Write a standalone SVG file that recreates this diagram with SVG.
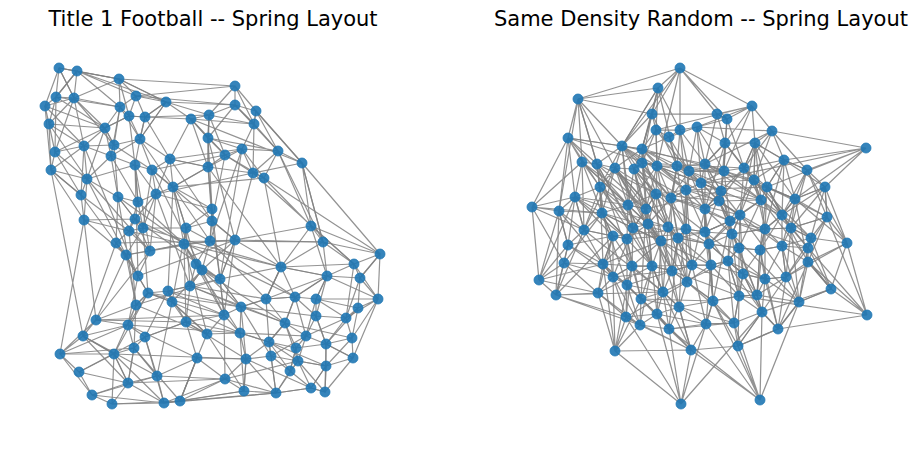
<svg xmlns="http://www.w3.org/2000/svg" width="915" height="449" viewBox="0 0 915 449">
<style>
.t{font-family:"DejaVu Sans","Liberation Sans",sans-serif;font-size:21px;fill:#000;text-anchor:middle}
.e{fill:none;stroke:#808080;stroke-width:1.2;stroke-opacity:0.85;stroke-linejoin:round}
#right-edges .e{stroke-width:1.25}
circle{fill:#1f77b4;fill-opacity:0.9;stroke:#1f77b4;stroke-width:0.8}
</style>
<rect width="915" height="449" fill="#fff"/>
<text class="t" x="213" y="26">Title 1 Football -- Spring Layout</text>
<text class="t" x="701" y="26">Same Density Random -- Spring Layout</text>
<g id="connectors">
<g id="left-edges">
<path class="e" d="M59 68 L77 71 L74 98 L56 97 L45 106 L49 124 L55 152 L51 170 L84 146 L74 98 L59 68 L56 97 L77 71 L119 79 L120 107 L105 128 L74 98 L45 106 L55 152 L84 146 L87 179 L51 170 L49 124 L56 97 L105 128 L114 145 L84 146 L111 156 L120 107 L136 96 L119 79 L74 98 L49 124 L84 146"/>
<path class="e" d="M77 71 L56 97 L55 152 L105 128 L129 116 L136 96 L166 102 L119 79 L59 68 L45 106 L51 170 L81 195 L87 179 L55 152 L74 98 L120 107 L129 116 L145 117 L166 102 L191 119 L209 115 L235 86 L235 105 L256 111 L254 124 L209 115 L191 119 L145 117 L140 139 L135 165 L152 170 L170 159 L156 194 L173 187 L208 167 L208 138 L209 115 L235 105 L235 86 L136 96"/>
<path class="e" d="M120 107 L140 139 L114 145 L105 128 L111 156 L135 165 L87 179 L118 197 L138 202 L156 194 L135 219 L84 220 L81 195 L51 170 L84 220 L129 231 L143 228 L135 219 L118 197 L111 156 L140 139 L152 170 L173 187 L212 209 L212 221 L186 228 L143 228 L138 202 L135 165 L156 194 L212 209 L208 167 L170 159 L173 187 L186 228 L184 244 L210 241 L212 221 L212 209"/>
<path class="e" d="M208 138 L242 149 L225 155 L208 167 L253 173 L264 178 L278 151 L302 163 L256 111 L254 124 L242 149 L278 151 L235 105 L208 138 L191 119 L225 155 L253 173 L254 124 L235 105 L166 102 L140 139 L145 117 L129 116 L105 128"/>
<path class="e" d="M119 79 L235 86 M136 96 L235 105 M256 111 L302 163 L311 226 L264 178 L242 149 L208 167 M278 151 L311 226 M302 163 L323 242 M264 178 L380 254 M253 173 L354 264 M191 119 L302 163 M208 138 L278 151"/>
<path class="e" d="M212 209 L210 241 L235 240 L184 244 L150 251 L126 255 L116 243 L129 231 L150 251 L138 276 L126 255 L136 305 L148 293 L168 291 L190 286 L202 270 L196 264 L184 244 L186 228 L210 241 L196 264 L220 279 L202 270 L172 302 L168 291 L186 322 L190 286 L220 279 L235 240 L210 241 L150 251"/>
<path class="e" d="M116 243 L138 276 L148 293 L136 305 L96 320 L83 336 L128 325 L136 305 L114 354 L134 348 L145 337 L186 322 L207 334 L197 358 L157 376 L134 348 L128 325 L96 320 L60 354 L79 372 L92 395 L112 404 L128 383 L157 376 L164 403 L180 401 L197 358 L207 334 L172 302 L148 293 L128 325 L145 337 L157 376 L128 383 L114 354 L83 336 L60 354 L92 395 L79 372 L114 354 L112 404 L164 403 L128 383 L134 348"/>
<path class="e" d="M186 322 L240 333 L224 315 L220 279 L241 307 L266 299 L281 267 L235 240 L224 315 L207 334 L240 333 L246 359 L225 379 L197 358 L180 401 L244 391 L276 393 L164 403 L225 379 L244 391 L246 359 L269 342 L271 356 L290 371 L276 393 L311 388 L325 392 L326 366 L298 361 L290 371 L296 348 L269 342 L285 323 L241 307 L224 315"/>
<path class="e" d="M323 242 L380 254 L354 264 L360 278 L327 276 L281 267 L295 297 L316 299 L327 276 L323 242 L354 264 L378 299 L358 308 L346 318 L352 338 L353 358 L326 366 L325 392 L326 344 L352 338 L358 308 L360 278 L380 254 L378 299 L346 318 L316 316 L316 299 L295 297 L266 299 L285 323 L306 336 L296 348 L326 344 L316 316 L306 336 L298 361 L311 388 L326 366 L353 358 L326 344 L346 318"/>
<path class="e" d="M323 242 L311 226 L281 267 L266 299 L241 307 L240 333 L269 342 L285 323 L295 297 L327 276 M306 336 L271 356 L298 361 L325 392 L311 388 L276 393 L271 356 L246 359 M84 220 L60 354 M51 170 L83 336"/>
<path class="e" d="M170 159 L242 149 M152 170 L225 155 M173 187 L264 178 M156 194 L253 173 M138 202 L184 244 M135 219 L150 251 M143 228 L126 255 M186 228 L196 264 M212 221 L235 240 M212 209 L220 279 M118 197 L116 243 M111 156 L138 202 M114 145 L152 170 M140 139 L170 159 M105 128 L87 179 M129 116 L135 165 M135 165 L150 251"/>
<path class="e" d="M152 170 L202 270 M156 194 L190 286 M173 187 L168 291 M135 165 L138 276 M129 231 L136 305 M186 228 L172 302 M143 228 L148 293 M184 244 L186 322 M210 241 L266 299 M235 240 L323 242 M311 226 L327 276 M184 244 L207 334 M202 270 L224 315 M190 286 L241 307 M196 264 L240 333 M168 291 L224 315 M172 302 L186 322 M136 305 L134 348 M138 276 L128 325 M150 251 L96 320 M126 255 L96 320 M116 243 L83 336 M148 293 L114 354 M168 291 L145 337 M186 322 L197 358 M172 302 L157 376 M145 337 L164 403 M134 348 L180 401 M207 334 L244 391 M186 322 L246 359 M172 302 L240 333 M241 307 L246 359 M224 315 L225 379 M240 333 L244 391"/>
<path class="e" d="M281 267 L327 276 M266 299 L295 297 M295 297 L316 316 M316 299 L358 308 M266 299 L269 342 M241 307 L271 356 M285 323 L296 348 M306 336 L326 344 M269 342 L290 371 M296 348 L298 361 M271 356 L276 393 M246 359 L244 391 M290 371 L311 388 M298 361 L326 366 M326 344 L353 358 M378 299 L352 338 M380 254 L360 278 M378 299 L316 299 M378 299 L327 276"/>
<path class="e" d="M135 219 L295 297 M143 228 L281 267 M190 286 L285 323 M148 293 L241 307 M96 320 L224 315 M128 325 L240 333 M114 354 L246 359 M83 336 L157 376 M60 354 L114 354 M79 372 L128 383 M92 395 L164 403 M112 404 L180 401 M128 383 L92 395 M191 119 L208 167 M209 115 L208 167 M302 163 L253 173 M84 146 L138 276 M87 179 L126 255 M118 197 L136 305 M140 139 L210 241 M208 167 L281 267 M208 138 L235 240 M242 149 L220 279 M302 163 L380 254 M311 226 L354 264 M278 151 L323 242"/>
<path class="e" d="M60 354 L134 348 M60 354 L128 325 M79 372 L145 337 M92 395 L157 376 M164 403 L244 391 M180 401 L276 393 M128 383 L225 379 M77 71 L166 102 M59 68 L119 79 M77 71 L136 96 M119 79 L166 102 M56 97 L120 107 M49 124 L105 128 M45 106 L84 146 M210 241 L323 242"/>
<path class="e" d="M59 68 L74 98 M77 71 L120 107 M119 79 L129 116 M74 98 L114 145 M45 106 L105 128 M136 96 L145 117 M166 102 L145 117 M166 102 L140 139 M120 107 L114 145 M129 116 L140 139 M145 117 L170 159 M191 119 L208 138 M209 115 L208 138 M49 124 L87 179 M105 128 L84 146 M84 146 L81 195 M114 145 L118 197 M55 152 L81 195 M111 156 L87 179 M135 165 L138 202 M170 159 L208 167 M152 170 L156 194 M208 167 L173 187 M87 179 L84 220 M81 195 L129 231 M118 197 L135 219 M156 194 L143 228 M173 187 L186 228 M138 202 L129 231 M212 209 L186 228 M135 219 L129 231 M191 119 L170 159 M209 115 L225 155 M208 138 L225 155 M235 86 L256 111 M235 86 L254 124 M235 105 L254 124 M256 111 L278 151 M254 124 L278 151 M242 149 L253 173 M225 155 L264 178 M278 151 L253 173 M191 119 L254 124 M145 117 L209 115 M166 102 L209 115"/>
<path class="e" d="M116 243 L126 255 M126 255 L138 276 M184 244 L202 270 M210 241 L202 270 M196 264 L190 286 M202 270 L190 286 M138 276 L148 293 M190 286 L168 291 M148 293 L172 302 M168 291 L172 302 M172 302 L207 334 M186 322 L145 337 M83 336 L114 354 M114 354 L128 383 M134 348 L128 383 M197 358 L180 401 M235 240 L220 279 M235 240 L202 270 M281 267 L220 279 M281 267 L266 299 M327 276 L316 299 M354 264 L327 276 M360 278 L378 299 M220 279 L241 307 M220 279 L224 315 M295 297 L285 323 M316 299 L306 336 M316 316 L326 344 M240 333 L269 342 M269 342 L271 356 M296 348 L290 371 M326 344 L326 366 M353 358 L325 392 M298 361 L276 393 M326 366 L311 388 M225 379 L276 393"/>
<path class="e" d="M302 163 L323 242 M264 178 L281 267 M253 173 L235 240 M242 149 L210 241 M225 155 L212 221 M208 167 L212 221 M208 138 L212 209 M173 187 L184 244 M156 194 L150 251 M152 170 L143 228 M186 228 L190 286 M212 221 L220 279 M184 244 L224 315 M202 270 L241 307 M190 286 L266 299 M186 322 L224 315 M197 358 L246 359 M157 376 L225 379 M180 401 L225 379 M138 276 L235 240 M136 305 L220 279 M116 243 L210 241 M126 255 L184 244 M129 231 L184 244 M84 220 L126 255 M84 220 L96 320 M81 195 L116 243"/>
<path class="e" d="M323 242 L281 267 M311 226 L380 254 M354 264 L346 318 M360 278 L346 318 M327 276 L316 316 M327 276 L295 297 M295 297 L306 336 M316 299 L346 318 M358 308 L326 344 M378 299 L353 358 M352 338 L326 366 M346 318 L306 336 M246 359 L276 393 M285 323 L298 361 M269 342 L298 361"/>
<path class="e" d="M152 170 L235 240 M170 159 L212 221 M118 197 L184 244 M87 179 L150 251 M135 219 L220 279 M184 244 L281 267 M210 241 L295 297 M202 270 L285 323 M168 291 L241 307 M148 293 L224 315 M136 305 L207 334 M96 320 L186 322 M128 325 L197 358 M114 354 L164 403 M83 336 L128 383 M235 240 L311 226 M281 267 L354 264 M266 299 L327 276 M241 307 L316 316 M240 333 L306 336 M246 359 L311 388 M225 379 L298 361 M269 342 L326 366 M285 323 L352 338"/>
</g>
<g id="right-edges">
<path class="e" d="M680 68 L658 88 M680 68 L652 114 M680 68 L680 130 M680 68 L622 146 M680 68 L717 114 M680 68 L727 119 M680 68 L657 166 M680 68 L578 99 M680 68 L752 106"/>
<path class="e" d="M658 88 L578 99 M658 88 L652 114 M658 88 L656 130 M658 88 L622 146 M658 88 L677 166 M658 88 L642 149 M578 99 L568 138 M578 99 L582 162 M578 99 L622 146 M578 99 L615 168 M578 99 L597 164 M578 99 L652 114 M578 99 L559 211"/>
<path class="e" d="M568 138 L532 207 M568 138 L582 162 M568 138 L600 187 M568 138 L642 149 M568 138 L559 211 M568 138 L657 166 M568 138 L597 164 M532 207 L559 211 M532 207 L539 280 M532 207 L575 197 M532 207 L582 162 M532 207 L584 230 M532 207 L602 213 M532 207 L564 263"/>
<path class="e" d="M539 280 L568 245 M539 280 L564 263 M539 280 L556 295 M539 280 L598 293 M539 280 L603 264 M539 280 L559 211 M539 280 L575 197 M556 295 L564 263 M556 295 L598 293 M556 295 L613 236 M556 295 L626 317 M556 295 L663 292 M556 295 L640 325 M556 295 L584 230"/>
<path class="e" d="M615 351 L598 293 M615 351 L626 317 M615 351 L613 277 M615 351 L640 325 M615 351 L681 404 M615 351 L627 285 M615 351 L691 350 M615 351 L603 264 M615 351 L641 299 M681 404 L626 317 M681 404 L691 350 M681 404 L657 314 M681 404 L669 329 M681 404 L706 324 M681 404 L762 312"/>
<path class="e" d="M760 400 L738 346 M760 400 L706 324 M760 400 L734 323 M760 400 L691 350 M760 400 L799 302 M760 400 L713 301 M760 400 L669 329 M760 400 L762 312 M867 315 L831 289 M867 315 L847 243 M867 315 L808 262 M867 315 L739 296 M867 315 L778 329 M867 315 L808 248 M867 315 L827 217"/>
<path class="e" d="M847 243 L811 238 M847 243 L808 262 M847 243 L825 187 M847 243 L831 289 M847 243 L827 217 M847 243 L807 170 M847 243 L795 199 M866 148 L784 160 M866 148 L807 170 M866 148 L825 187 M866 148 L772 131 M866 148 L795 199 M866 148 L701 183 M866 148 L767 187"/>
<path class="e" d="M752 106 L717 114 M752 106 L727 119 M752 106 L772 131 M752 106 L755 143 M752 106 L725 143 M752 106 L656 130 M752 106 L697 127 M752 106 L724 171 M772 131 L755 143 M772 131 L784 160 M772 131 L744 168 M772 131 L754 180 M772 131 L697 127 M772 131 L705 164"/>
<path class="e" d="M652 114 L656 130 L669 137 L680 130 L697 127 L727 119 L717 114 L652 114 L622 146 L642 149 L642 163 L634 169 L615 168 L597 164 L582 162 L600 187 L575 197 L559 211 L584 230 L602 213 L600 187 L597 164 L622 146 L642 163 L657 166 L677 166 L689 171 L686 190 L671 198 L656 194 L646 209 L628 205 L602 213 L633 228 L648 224 L668 227 L686 229 L686 190 L701 183 L705 164 L724 171 L689 171 L697 127 L725 143 L724 171 L744 168 L754 180 L767 187 L761 200 L740 215 L730 221 L705 232 L705 209 L719 201 L721 191 L705 164 L725 143 L755 143 L784 160 L807 170 L825 187 L795 199 L767 187 L782 215 L791 228 L827 217 L825 187"/>
<path class="e" d="M669 137 L642 149 L615 168 L628 205 L656 194 L657 166 L656 130 L680 130 L677 166 L671 198 L648 224 L661 241 L678 238 L672 271 L692 265 L687 282 L679 307 L663 292 L652 266 L632 266 L613 277 L627 285 L641 299 L657 314 L669 329 L691 350 L679 307 L713 301 L706 324 L734 323 L739 296 L757 295 L762 312 L778 329 L799 302 L831 289 L808 262 L808 248 L811 238 L782 246 L760 250 L739 248 L709 244 L711 265 L728 261 L743 274 L765 279 L786 277 L782 246 L811 238 L791 228 L765 229 L760 250 L757 295 L765 279 L799 302 L778 329 L738 346 L762 312 L743 274 L739 296 L713 301 L711 265 L709 244 L705 232 L730 221 L732 234 L739 248 L728 261 L739 296"/>
<path class="e" d="M584 230 L613 236 L627 239 L633 228 L661 241 L652 266 L672 271 L663 292 L641 299 L627 285 L627 239 L603 264 L613 236 L568 245 L564 263 L603 264 L613 277 L632 266 L661 241 L648 224 L646 209 L627 239 L602 213 L613 236 L584 230 L575 197 L568 245 L559 211"/>
<path class="e" d="M582 162 L602 213 L615 168 L646 209 L657 166 L671 198 L678 238 L686 229 L705 232 L705 209 L721 191 L701 183 L689 171 L724 171 L719 201 L761 200 L754 180 L755 143 L744 168 L784 160 L767 187 L795 199 L782 215 L765 229 L732 234 L740 215 L719 201 L730 221 L709 244 L678 238 L668 227 L656 194 L634 169 L642 149 L652 114 L658 88 L622 146 L615 168"/>
<path class="e" d="M568 138 L628 205 M597 164 L656 194 M600 187 L633 228 M575 197 L613 236 M559 211 L603 264 M582 162 L646 209 M622 146 L657 166 M634 169 L646 209 M642 163 L671 198 M642 149 L648 224 M628 205 L652 266 M633 228 L632 266 M648 224 L672 271 M668 227 L687 282 M686 229 L692 265 M686 190 L705 209 M701 183 L721 191 M689 171 L719 201 M697 127 L705 164 M727 119 L724 171 M717 114 L725 143 M725 143 L754 180 M755 143 L767 187 M784 160 L825 187 M807 170 L795 199 M744 168 L761 200 M754 180 L782 215 M761 200 L791 228 M767 187 L827 217 M740 215 L732 234 M730 221 L765 229 M705 232 L709 244 M705 209 L711 265 M732 234 L728 261 M765 229 L782 246 M791 228 L808 248 M782 215 L811 238 M827 217 L811 238 M795 199 L791 228 M721 191 L705 232 M719 201 L740 215 M724 171 L761 200 M705 164 L721 191 M677 166 L701 183 M671 198 L686 190 M656 194 L648 224 M646 209 L661 241 M602 213 L627 239 M584 230 L568 245 M600 187 L603 264"/>
<path class="e" d="M564 263 L598 293 M613 277 L626 317 M627 285 L640 325 M641 299 L669 329 M663 292 L657 314 M672 271 L679 307 M687 282 L711 265 M692 265 L709 244 M678 238 L705 232 M661 241 L692 265 M652 266 L663 292 M632 266 L641 299 M598 293 L626 317 M626 317 L657 314 M640 325 L669 329 M679 307 L691 350 M657 314 L691 350 M669 329 L734 323 M691 350 L738 346 M691 350 L706 324 M706 324 L734 323 M713 301 L734 323 M734 323 L738 346 M762 312 L738 346 M799 302 L808 262 M808 262 L786 277 M782 246 L786 277 M760 250 L765 279 M739 248 L743 274 M711 265 L713 301 M743 274 L739 296 M739 296 L762 312 M757 295 L786 277 M709 244 L728 261"/>
<path class="e" d="M578 99 L597 164 M568 138 L575 197 M597 164 L632 266 M600 187 L613 277 M615 168 L661 241 M634 169 L652 266 M642 163 L672 271 M622 146 L656 194 M652 114 L677 166 M656 130 L689 171 M680 130 L686 190 M717 114 L705 164 M727 119 L744 168 M772 131 L807 170 M755 143 L795 199 M784 160 L782 215 M807 170 L827 217 M754 180 L765 229 M767 187 L760 250 M761 200 L739 248 M740 215 L709 244 M730 221 L713 301 M732 234 L739 296 M765 229 L757 295 M791 228 L799 302 M782 215 L782 246 M825 187 L808 248 M795 199 L808 262 M811 238 L831 289"/>
<path class="e" d="M646 209 L679 307 M648 224 L657 314 M668 227 L663 292 M686 229 L687 282 M656 194 L678 238 M671 198 L672 271 M686 190 L692 265 M701 183 L711 265 M689 171 L705 209 M705 164 L705 232 M724 171 L730 221 M721 191 L732 234 M719 201 L739 248 M744 168 L767 187 M658 88 L680 130 M669 137 L697 127 M657 166 L628 205 M677 166 L668 227 M642 149 L656 194 M615 168 L584 230 M602 213 L564 263 M559 211 L556 295 M584 230 L603 264 M613 236 L613 277 M627 239 L641 299 M661 241 L657 314 M678 238 L669 329 M652 266 L640 325 M632 266 L626 317 M603 264 L598 293"/>
<path class="e" d="M663 292 L691 350 M672 271 L713 301 M692 265 L706 324 M687 282 L734 323 M679 307 L706 324 M705 232 L762 312 M709 244 L743 274 M739 248 L757 295 M760 250 L778 329 M782 246 L808 262 M728 261 L765 279 M711 265 L739 296 M613 236 L598 293 M568 245 L556 295 M628 205 L633 228 M634 169 L628 205 M582 162 L575 197 M622 146 L634 169 M642 149 L657 166 M652 114 L642 163 M656 130 L657 166 M669 137 L677 166 M680 130 L689 171 M697 127 L701 183 M717 114 L727 119 M727 119 L725 143"/>
<path class="e" d="M582 162 L648 224 M622 146 L633 228 M575 197 L627 239 M615 168 L678 238 M600 187 L652 266 M725 143 L705 209 M755 143 L740 215 M784 160 L765 229 M807 170 L791 228 M825 187 L782 215 M827 217 L808 248 M811 238 L786 277 M808 248 L799 302 M808 262 L778 329 M831 289 L762 312 M847 243 L786 277"/>
<path class="e" d="M622 146 L600 187 M622 146 L628 205 M622 146 L671 198 M622 146 L705 164 M642 149 L689 171 M642 149 L646 209 M642 149 L686 190 M582 162 L628 205 M582 162 L584 230 M597 164 L602 213 M597 164 L646 209 M597 164 L633 228 M615 168 L600 187 M615 168 L656 194 M615 168 L648 224 M634 169 L656 194 M634 169 L648 224 M634 169 L668 227 M642 163 L689 171 M642 163 L646 209 M642 163 L686 229 M657 166 L686 190 M657 166 L668 227 M657 166 L701 183 M677 166 L671 198 M677 166 L686 229 M677 166 L724 171 M689 171 L671 198 M689 171 L686 229 M689 171 L721 191 M600 187 L628 205 M600 187 L584 230 M575 197 L602 213 M575 197 L584 230 M575 197 L628 205"/>
<path class="e" d="M656 194 L633 228 M656 194 L668 227 M656 194 L686 190 M671 198 L686 229 M671 198 L705 209 M686 190 L705 232 M686 190 L719 201 M701 183 L705 209 M701 183 L724 171 M701 183 L719 201 M602 213 L633 228 M602 213 L613 236 M628 205 L627 239 M628 205 L648 224 M628 205 L646 209 M648 224 L627 239 M648 224 L652 266 M668 227 L661 241 M668 227 L678 238 M668 227 L692 265 M686 229 L678 238 M686 229 L705 232 M686 229 L709 244 M633 228 L627 239 M633 228 L661 241 M584 230 L627 239"/>
<path class="e" d="M725 143 L724 171 M725 143 L705 164 M725 143 L744 168 M755 143 L744 168 M755 143 L754 180 M755 143 L784 160 M784 160 L754 180 M784 160 L767 187 M784 160 L807 170 M784 160 L795 199 M705 164 L724 171 M705 164 L719 201 M724 171 L721 191 M724 171 L754 180 M744 168 L721 191 M744 168 L719 201 M754 180 L761 200 M754 180 L740 215 M767 187 L795 199 M767 187 L782 215 M767 187 L765 229 M825 187 L795 199 M825 187 L827 217 M825 187 L791 228 M721 191 L705 209 M721 191 L740 215 M721 191 L730 221 M719 201 L705 209 M719 201 L730 221 M719 201 L732 234 M761 200 L740 215 M761 200 L782 215 M761 200 L765 229 M761 200 L730 221"/>
<path class="e" d="M795 199 L782 215 M795 199 L827 217 M705 209 L705 232 M705 209 L730 221 M705 209 L732 234 M740 215 L730 221 M740 215 L765 229 M740 215 L739 248 M782 215 L765 229 M782 215 L791 228 M827 217 L791 228 M730 221 L705 232 M730 221 L732 234 M765 229 L791 228 M765 229 L732 234 M765 229 L760 250 M791 228 L782 246 M791 228 L811 238 M705 232 L732 234 M705 232 L711 265 M732 234 L739 248 M732 234 L709 244"/>
<path class="e" d="M613 236 L603 264 M613 236 L632 266 M627 239 L632 266 M627 239 L652 266 M661 241 L672 271 M661 241 L678 238 M678 238 L692 265 M678 238 L672 271 M678 238 L709 244 M603 264 L632 266 M603 264 L613 277 M603 264 L627 285 M632 266 L652 266 M632 266 L627 285 M652 266 L672 271 M652 266 L641 299 M672 271 L692 265 M672 271 L687 282 M692 265 L687 282 M692 265 L711 265 M613 277 L598 293 M627 285 L626 317 M687 282 L713 301 M663 292 L679 307 M663 292 L669 329 M641 299 L657 314 M641 299 L640 325 M679 307 L669 329 M679 307 L657 314 M626 317 L640 325 M657 314 L640 325 M657 314 L669 329"/>
<path class="e" d="M709 244 L739 248 M709 244 L711 265 M739 248 L760 250 M739 248 L728 261 M760 250 L782 246 M760 250 L743 274 M782 246 L808 248 M782 246 L765 279 M808 248 L786 277 M711 265 L728 261 M711 265 L743 274 M728 261 L743 274 M728 261 L739 296 M808 262 L831 289 M743 274 L765 279 M743 274 L757 295 M765 279 L786 277 M765 279 L762 312 M786 277 L799 302 M786 277 L762 312 M831 289 L799 302 M713 301 L739 296 M713 301 L706 324 M739 296 L757 295 M739 296 L734 323 M757 295 L762 312 M757 295 L799 302 M799 302 L778 329 M762 312 L734 323 M762 312 L778 329 M778 329 L738 346"/>
<path class="e" d="M600 187 L661 241 M615 168 L672 271 M597 164 L652 266 M656 194 L663 292 M671 198 L687 282 M686 190 L679 307 M628 205 L663 292 M646 209 L641 299 M602 213 L627 285 M633 228 L613 277 M642 149 L724 171 M657 166 L721 191 M677 166 L705 164 M656 194 L719 201 M671 198 L730 221 M686 190 L761 200 M701 183 L754 180 M697 127 L724 171 M680 130 L705 164 M669 137 L689 171 M656 130 L642 149 M656 130 L642 163 M652 114 L642 149 M725 143 L721 191 M755 143 L761 200 M807 170 L782 215 M744 168 L740 215 M754 180 L730 221 M767 187 L791 228 M795 199 L782 246 M782 215 L760 250 M827 217 L808 262 M791 228 L786 277 M765 229 L765 279 M740 215 L743 274 M730 221 L728 261 M705 232 L713 301 M732 234 L757 295 M705 209 L692 265 M678 238 L711 265 M661 241 L687 282"/>
<path class="e" d="M709 244 L713 301 M739 248 L739 296 M760 250 L757 295 M782 246 L799 302 M808 248 L831 289 M711 265 L706 324 M728 261 L734 323 M743 274 L762 312 M765 279 L778 329 M786 277 L778 329 M713 301 L738 346 M739 296 L738 346 M679 307 L734 323 M669 329 L706 324 M657 314 L706 324 M640 325 L691 350 M626 317 L691 350 M641 299 L679 307 M598 293 L640 325 M613 277 L640 325 M627 285 L663 292 M632 266 L663 292 M603 264 L641 299 M568 245 L603 264 M568 245 L613 277 M564 263 L613 277 M559 211 L568 245 M559 211 L602 213 M568 138 L622 146"/>
<path class="e" d="M575 197 L668 227 M602 213 L709 244 M584 230 L663 292 M613 236 L686 229 M627 239 L705 232 M633 228 L711 265 M646 209 L721 191 M634 169 L705 209 M642 163 L744 168 M657 166 L740 215 M677 166 L754 180 M686 190 L767 187 M701 183 L782 215 M705 164 L761 200 M724 171 L795 199 M719 201 L782 246 M730 221 L808 248 M740 215 L786 277 M732 234 L799 302 M705 232 L765 279 M692 265 L757 295 M672 271 L739 296 M663 292 L728 261 M652 266 L711 265 M641 299 L713 301 M626 317 L687 282 M613 277 L672 271 M603 264 L661 241 M627 285 L692 265 M598 293 L652 266 M622 146 L686 190 M642 149 L701 183 M615 168 L668 227 M656 194 L705 232 M671 198 L740 215 M689 171 L761 200 M744 168 L808 248 M754 180 L811 238 M767 187 L808 262 M761 200 L831 289"/>
</g>
</g>
<g id="left-nodes">
<g id="a1"><circle cx="59" cy="68" r="5"/></g>
<g id="a2"><circle cx="77" cy="71" r="5"/></g>
<g id="a3"><circle cx="119" cy="79" r="5"/></g>
<g id="a4"><circle cx="56" cy="97" r="5"/></g>
<g id="a5"><circle cx="74" cy="98" r="5"/></g>
<g id="a6"><circle cx="45" cy="106" r="5"/></g>
<g id="a7"><circle cx="136" cy="96" r="5"/></g>
<g id="a8"><circle cx="166" cy="102" r="5"/></g>
<g id="a9"><circle cx="120" cy="107" r="5"/></g>
<g id="a10"><circle cx="129" cy="116" r="5"/></g>
<g id="a11"><circle cx="145" cy="117" r="5"/></g>
<g id="a12"><circle cx="191" cy="119" r="5"/></g>
<g id="a13"><circle cx="209" cy="115" r="5"/></g>
<g id="a14"><circle cx="49" cy="124" r="5"/></g>
<g id="a15"><circle cx="105" cy="128" r="5"/></g>
<g id="a16"><circle cx="140" cy="139" r="5"/></g>
<g id="a17"><circle cx="208" cy="138" r="5"/></g>
<g id="a18"><circle cx="84" cy="146" r="5"/></g>
<g id="a19"><circle cx="114" cy="145" r="5"/></g>
<g id="a20"><circle cx="55" cy="152" r="5"/></g>
<g id="a21"><circle cx="111" cy="156" r="5"/></g>
<g id="a22"><circle cx="135" cy="165" r="5"/></g>
<g id="a23"><circle cx="170" cy="159" r="5"/></g>
<g id="a24"><circle cx="152" cy="170" r="5"/></g>
<g id="a25"><circle cx="208" cy="167" r="5"/></g>
<g id="a26"><circle cx="51" cy="170" r="5"/></g>
<g id="a27"><circle cx="87" cy="179" r="5"/></g>
<g id="a28"><circle cx="81" cy="195" r="5"/></g>
<g id="a29"><circle cx="118" cy="197" r="5"/></g>
<g id="a30"><circle cx="156" cy="194" r="5"/></g>
<g id="a31"><circle cx="173" cy="187" r="5"/></g>
<g id="a32"><circle cx="138" cy="202" r="5"/></g>
<g id="a33"><circle cx="212" cy="209" r="5"/></g>
<g id="a34"><circle cx="84" cy="220" r="5"/></g>
<g id="a35"><circle cx="135" cy="219" r="5"/></g>
<g id="a36"><circle cx="129" cy="231" r="5"/></g>
<g id="a37"><circle cx="143" cy="228" r="5"/></g>
<g id="a38"><circle cx="186" cy="228" r="5"/></g>
<g id="a39"><circle cx="212" cy="221" r="5"/></g>
<g id="a40"><circle cx="235" cy="86" r="5"/></g>
<g id="a41"><circle cx="235" cy="105" r="5"/></g>
<g id="a42"><circle cx="256" cy="111" r="5"/></g>
<g id="a43"><circle cx="254" cy="124" r="5"/></g>
<g id="a44"><circle cx="242" cy="149" r="5"/></g>
<g id="a45"><circle cx="225" cy="155" r="5"/></g>
<g id="a46"><circle cx="278" cy="151" r="5"/></g>
<g id="a47"><circle cx="302" cy="163" r="5"/></g>
<g id="a48"><circle cx="253" cy="173" r="5"/></g>
<g id="a49"><circle cx="264" cy="178" r="5"/></g>
<g id="a50"><circle cx="311" cy="226" r="5"/></g>
<g id="a51"><circle cx="116" cy="243" r="5"/></g>
<g id="a52"><circle cx="150" cy="251" r="5"/></g>
<g id="a53"><circle cx="126" cy="255" r="5"/></g>
<g id="a54"><circle cx="184" cy="244" r="5"/></g>
<g id="a55"><circle cx="210" cy="241" r="5"/></g>
<g id="a56"><circle cx="196" cy="264" r="5"/></g>
<g id="a57"><circle cx="202" cy="270" r="5"/></g>
<g id="a58"><circle cx="138" cy="276" r="5"/></g>
<g id="a59"><circle cx="190" cy="286" r="5"/></g>
<g id="a60"><circle cx="148" cy="293" r="5"/></g>
<g id="a61"><circle cx="168" cy="291" r="5"/></g>
<g id="a62"><circle cx="172" cy="302" r="5"/></g>
<g id="a63"><circle cx="136" cy="305" r="5"/></g>
<g id="a64"><circle cx="96" cy="320" r="5"/></g>
<g id="a65"><circle cx="128" cy="325" r="5"/></g>
<g id="a66"><circle cx="186" cy="322" r="5"/></g>
<g id="a67"><circle cx="83" cy="336" r="5"/></g>
<g id="a68"><circle cx="145" cy="337" r="5"/></g>
<g id="a69"><circle cx="207" cy="334" r="5"/></g>
<g id="a70"><circle cx="60" cy="354" r="5"/></g>
<g id="a71"><circle cx="114" cy="354" r="5"/></g>
<g id="a72"><circle cx="134" cy="348" r="5"/></g>
<g id="a73"><circle cx="197" cy="358" r="5"/></g>
<g id="a74"><circle cx="79" cy="372" r="5"/></g>
<g id="a75"><circle cx="157" cy="376" r="5"/></g>
<g id="a76"><circle cx="128" cy="383" r="5"/></g>
<g id="a77"><circle cx="92" cy="395" r="5"/></g>
<g id="a78"><circle cx="112" cy="404" r="5"/></g>
<g id="a79"><circle cx="164" cy="403" r="5"/></g>
<g id="a80"><circle cx="180" cy="401" r="5"/></g>
<g id="a81"><circle cx="235" cy="240" r="5"/></g>
<g id="a82"><circle cx="323" cy="242" r="5"/></g>
<g id="a83"><circle cx="380" cy="254" r="5"/></g>
<g id="a84"><circle cx="281" cy="267" r="5"/></g>
<g id="a85"><circle cx="354" cy="264" r="5"/></g>
<g id="a86"><circle cx="327" cy="276" r="5"/></g>
<g id="a87"><circle cx="360" cy="278" r="5"/></g>
<g id="a88"><circle cx="220" cy="279" r="5"/></g>
<g id="a89"><circle cx="266" cy="299" r="5"/></g>
<g id="a90"><circle cx="295" cy="297" r="5"/></g>
<g id="a91"><circle cx="316" cy="299" r="5"/></g>
<g id="a92"><circle cx="378" cy="299" r="5"/></g>
<g id="a93"><circle cx="241" cy="307" r="5"/></g>
<g id="a94"><circle cx="358" cy="308" r="5"/></g>
<g id="a95"><circle cx="224" cy="315" r="5"/></g>
<g id="a96"><circle cx="316" cy="316" r="5"/></g>
<g id="a97"><circle cx="346" cy="318" r="5"/></g>
<g id="a98"><circle cx="285" cy="323" r="5"/></g>
<g id="a99"><circle cx="240" cy="333" r="5"/></g>
<g id="a100"><circle cx="306" cy="336" r="5"/></g>
<g id="a101"><circle cx="269" cy="342" r="5"/></g>
<g id="a102"><circle cx="352" cy="338" r="5"/></g>
<g id="a103"><circle cx="296" cy="348" r="5"/></g>
<g id="a104"><circle cx="326" cy="344" r="5"/></g>
<g id="a105"><circle cx="271" cy="356" r="5"/></g>
<g id="a106"><circle cx="246" cy="359" r="5"/></g>
<g id="a107"><circle cx="353" cy="358" r="5"/></g>
<g id="a108"><circle cx="298" cy="361" r="5"/></g>
<g id="a109"><circle cx="290" cy="371" r="5"/></g>
<g id="a110"><circle cx="326" cy="366" r="5"/></g>
<g id="a111"><circle cx="225" cy="379" r="5"/></g>
<g id="a112"><circle cx="244" cy="391" r="5"/></g>
<g id="a113"><circle cx="276" cy="393" r="5"/></g>
<g id="a114"><circle cx="311" cy="388" r="5"/></g>
<g id="a115"><circle cx="325" cy="392" r="5"/></g>
</g>
<g id="right-nodes">
<g id="b1"><circle cx="680" cy="68" r="5"/></g>
<g id="b2"><circle cx="658" cy="88" r="5"/></g>
<g id="b3"><circle cx="578" cy="99" r="5"/></g>
<g id="b4"><circle cx="652" cy="114" r="5"/></g>
<g id="b5"><circle cx="656" cy="130" r="5"/></g>
<g id="b6"><circle cx="669" cy="137" r="5"/></g>
<g id="b7"><circle cx="680" cy="130" r="5"/></g>
<g id="b8"><circle cx="697" cy="127" r="5"/></g>
<g id="b9"><circle cx="568" cy="138" r="5"/></g>
<g id="b10"><circle cx="622" cy="146" r="5"/></g>
<g id="b11"><circle cx="642" cy="149" r="5"/></g>
<g id="b12"><circle cx="582" cy="162" r="5"/></g>
<g id="b13"><circle cx="597" cy="164" r="5"/></g>
<g id="b14"><circle cx="615" cy="168" r="5"/></g>
<g id="b15"><circle cx="634" cy="169" r="5"/></g>
<g id="b16"><circle cx="642" cy="163" r="5"/></g>
<g id="b17"><circle cx="657" cy="166" r="5"/></g>
<g id="b18"><circle cx="677" cy="166" r="5"/></g>
<g id="b19"><circle cx="689" cy="171" r="5"/></g>
<g id="b20"><circle cx="600" cy="187" r="5"/></g>
<g id="b21"><circle cx="575" cy="197" r="5"/></g>
<g id="b22"><circle cx="656" cy="194" r="5"/></g>
<g id="b23"><circle cx="671" cy="198" r="5"/></g>
<g id="b24"><circle cx="686" cy="190" r="5"/></g>
<g id="b25"><circle cx="701" cy="183" r="5"/></g>
<g id="b26"><circle cx="532" cy="207" r="5"/></g>
<g id="b27"><circle cx="559" cy="211" r="5"/></g>
<g id="b28"><circle cx="602" cy="213" r="5"/></g>
<g id="b29"><circle cx="628" cy="205" r="5"/></g>
<g id="b30"><circle cx="646" cy="209" r="5"/></g>
<g id="b31"><circle cx="648" cy="224" r="5"/></g>
<g id="b32"><circle cx="668" cy="227" r="5"/></g>
<g id="b33"><circle cx="686" cy="229" r="5"/></g>
<g id="b34"><circle cx="633" cy="228" r="5"/></g>
<g id="b35"><circle cx="584" cy="230" r="5"/></g>
<g id="b36"><circle cx="752" cy="106" r="5"/></g>
<g id="b37"><circle cx="717" cy="114" r="5"/></g>
<g id="b38"><circle cx="727" cy="119" r="5"/></g>
<g id="b39"><circle cx="772" cy="131" r="5"/></g>
<g id="b40"><circle cx="725" cy="143" r="5"/></g>
<g id="b41"><circle cx="755" cy="143" r="5"/></g>
<g id="b42"><circle cx="866" cy="148" r="5"/></g>
<g id="b43"><circle cx="784" cy="160" r="5"/></g>
<g id="b44"><circle cx="705" cy="164" r="5"/></g>
<g id="b45"><circle cx="807" cy="170" r="5"/></g>
<g id="b46"><circle cx="724" cy="171" r="5"/></g>
<g id="b47"><circle cx="744" cy="168" r="5"/></g>
<g id="b48"><circle cx="754" cy="180" r="5"/></g>
<g id="b49"><circle cx="767" cy="187" r="5"/></g>
<g id="b50"><circle cx="825" cy="187" r="5"/></g>
<g id="b51"><circle cx="721" cy="191" r="5"/></g>
<g id="b52"><circle cx="719" cy="201" r="5"/></g>
<g id="b53"><circle cx="761" cy="200" r="5"/></g>
<g id="b54"><circle cx="795" cy="199" r="5"/></g>
<g id="b55"><circle cx="705" cy="209" r="5"/></g>
<g id="b56"><circle cx="740" cy="215" r="5"/></g>
<g id="b57"><circle cx="782" cy="215" r="5"/></g>
<g id="b58"><circle cx="827" cy="217" r="5"/></g>
<g id="b59"><circle cx="730" cy="221" r="5"/></g>
<g id="b60"><circle cx="765" cy="229" r="5"/></g>
<g id="b61"><circle cx="791" cy="228" r="5"/></g>
<g id="b62"><circle cx="705" cy="232" r="5"/></g>
<g id="b63"><circle cx="732" cy="234" r="5"/></g>
<g id="b64"><circle cx="613" cy="236" r="5"/></g>
<g id="b65"><circle cx="627" cy="239" r="5"/></g>
<g id="b66"><circle cx="661" cy="241" r="5"/></g>
<g id="b67"><circle cx="678" cy="238" r="5"/></g>
<g id="b68"><circle cx="568" cy="245" r="5"/></g>
<g id="b69"><circle cx="564" cy="263" r="5"/></g>
<g id="b70"><circle cx="603" cy="264" r="5"/></g>
<g id="b71"><circle cx="632" cy="266" r="5"/></g>
<g id="b72"><circle cx="652" cy="266" r="5"/></g>
<g id="b73"><circle cx="672" cy="271" r="5"/></g>
<g id="b74"><circle cx="692" cy="265" r="5"/></g>
<g id="b75"><circle cx="539" cy="280" r="5"/></g>
<g id="b76"><circle cx="613" cy="277" r="5"/></g>
<g id="b77"><circle cx="627" cy="285" r="5"/></g>
<g id="b78"><circle cx="687" cy="282" r="5"/></g>
<g id="b79"><circle cx="556" cy="295" r="5"/></g>
<g id="b80"><circle cx="598" cy="293" r="5"/></g>
<g id="b81"><circle cx="663" cy="292" r="5"/></g>
<g id="b82"><circle cx="641" cy="299" r="5"/></g>
<g id="b83"><circle cx="679" cy="307" r="5"/></g>
<g id="b84"><circle cx="626" cy="317" r="5"/></g>
<g id="b85"><circle cx="657" cy="314" r="5"/></g>
<g id="b86"><circle cx="640" cy="325" r="5"/></g>
<g id="b87"><circle cx="669" cy="329" r="5"/></g>
<g id="b88"><circle cx="615" cy="351" r="5"/></g>
<g id="b89"><circle cx="691" cy="350" r="5"/></g>
<g id="b90"><circle cx="681" cy="404" r="5"/></g>
<g id="b91"><circle cx="811" cy="238" r="5"/></g>
<g id="b92"><circle cx="847" cy="243" r="5"/></g>
<g id="b93"><circle cx="709" cy="244" r="5"/></g>
<g id="b94"><circle cx="739" cy="248" r="5"/></g>
<g id="b95"><circle cx="760" cy="250" r="5"/></g>
<g id="b96"><circle cx="782" cy="246" r="5"/></g>
<g id="b97"><circle cx="808" cy="248" r="5"/></g>
<g id="b98"><circle cx="711" cy="265" r="5"/></g>
<g id="b99"><circle cx="728" cy="261" r="5"/></g>
<g id="b100"><circle cx="808" cy="262" r="5"/></g>
<g id="b101"><circle cx="743" cy="274" r="5"/></g>
<g id="b102"><circle cx="765" cy="279" r="5"/></g>
<g id="b103"><circle cx="786" cy="277" r="5"/></g>
<g id="b104"><circle cx="831" cy="289" r="5"/></g>
<g id="b105"><circle cx="713" cy="301" r="5"/></g>
<g id="b106"><circle cx="739" cy="296" r="5"/></g>
<g id="b107"><circle cx="757" cy="295" r="5"/></g>
<g id="b108"><circle cx="799" cy="302" r="5"/></g>
<g id="b109"><circle cx="867" cy="315" r="5"/></g>
<g id="b110"><circle cx="762" cy="312" r="5"/></g>
<g id="b111"><circle cx="706" cy="324" r="5"/></g>
<g id="b112"><circle cx="734" cy="323" r="5"/></g>
<g id="b113"><circle cx="778" cy="329" r="5"/></g>
<g id="b114"><circle cx="738" cy="346" r="5"/></g>
<g id="b115"><circle cx="760" cy="400" r="5"/></g>
</g>
</svg>
